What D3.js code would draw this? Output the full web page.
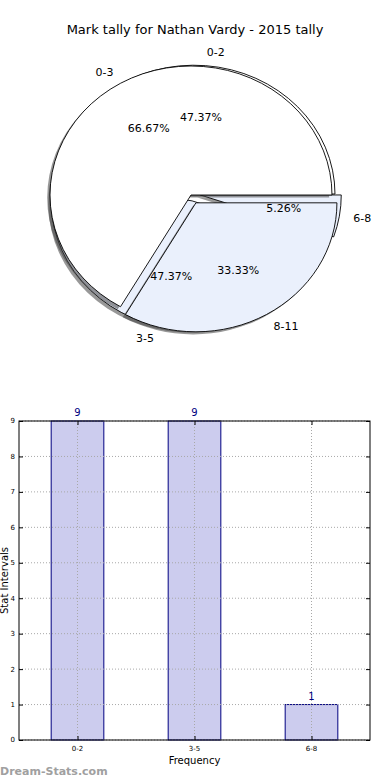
<!DOCTYPE html>
<html>
<head>
<meta charset="utf-8">
<script src="https://cdn.jsdelivr.net/npm/d3@7"></script>
<style>
  body { margin: 0; background: #fff; }
  svg { display: block; font-family: "DejaVu Sans", sans-serif; }
</style>
</head>
<body>
<div id="chart"></div>
<script>
// chart values
const titleText = "Mark tally for Nathan Vardy - 2015 tally";

// first pie (same tally as the bars)
const pieLabelsA = ["0-2", "3-5", "6-8"];
const pieValuesA = [9, 9, 1];

// second pie drawn over it
const pieLabelsB = ["0-3", "8-11"];
const pieValuesB = [2, 1];

// bar chart
const barCategories = ["0-2", "3-5", "6-8"];
const barValues = [9, 9, 1];
const yTicks = [0, 1, 2, 3, 4, 5, 6, 7, 8, 9];

const W = 390, H = 780;

const svg = d3.select("#chart").append("svg")
    .attr("width", W)
    .attr("height", H);

// title
svg.append("text")
    .attr("x", 195)
    .attr("y", 34)
    .attr("text-anchor", "middle")
    .style("font-size", "13px")
    .text(titleText);

// ---------- pies ----------
const rx = 141, ry = 129;
const blue = "#eaf0fc";

// matplotlib style: start at 3 o'clock, go counterclockwise
const pieGen = d3.pie().sort(null)
    .startAngle(Math.PI / 2)
    .endAngle(Math.PI / 2 - 2 * Math.PI);

const unitArc = d3.arc().innerRadius(0).outerRadius(1);

function drawPie(labels, values, cfg) {
    const arcs = pieGen(values).map((a, i) => {
        const mid = (a.startAngle + a.endAngle) / 2;
        const ex = cfg.explode[i];
        return {
            arc: a,
            label: labels[i],
            value: values[i],
            mid: mid,
            cx: cfg.cx + ex * rx * Math.sin(mid),
            cy: cfg.cy - ex * ry * Math.cos(mid),
            fill: cfg.colors[i]
        };
    });
    const total = d3.sum(values);

    // shadow under the wedges
    const shadow = cfg.patchLayer.append("g");
    shadow.selectAll("path")
        .data(arcs)
        .enter()
        .append("path")
        .attr("transform", d => `translate(${d.cx - 2.8},${d.cy + 2.6}) scale(${rx},${ry})`)
        .attr("d", d => unitArc(d.arc))
        .attr("fill", "#444")
        .attr("fill-opacity", 0.55);

    const wedges = cfg.patchLayer.append("g");
    wedges.selectAll("path")
        .data(arcs)
        .enter()
        .append("path")
        .attr("transform", d => `translate(${d.cx},${d.cy}) scale(${rx},${ry})`)
        .attr("d", d => unitArc(d.arc))
        .attr("fill", d => d.fill)
        .attr("stroke", "#000")
        .attr("stroke-width", 0.9)
        .attr("vector-effect", "non-scaling-stroke");

    // outer labels
    cfg.textLayer.selectAll(null)
        .data(arcs)
        .enter()
        .append("text")
        .attr("x", d => d.cx + 1.1 * rx * Math.sin(d.mid))
        .attr("y", d => d.cy - 1.1 * ry * Math.cos(d.mid))
        .attr("dy", "0.35em")
        .attr("text-anchor", d => Math.sin(d.mid) >= 0 ? "start" : "end")
        .style("font-size", "11px")
        .text(d => d.label);

    // percentages
    cfg.textLayer.selectAll(null)
        .data(arcs)
        .enter()
        .append("text")
        .attr("x", d => d.cx + 0.6 * rx * Math.sin(d.mid))
        .attr("y", d => d.cy - 0.6 * ry * Math.cos(d.mid))
        .attr("dy", "0.35em")
        .attr("text-anchor", "middle")
        .style("font-size", "11px")
        .text(d => (d.value / total * 100).toFixed(2) + "%");
}

const patchLayer = svg.append("g");
const textLayer = svg.append("g");

drawPie(pieLabelsA, pieValuesA, {
    cx: 194, cy: 194,
    explode: [0, 0.055, 0.045],
    colors: ["#ffffff", blue, blue],
    patchLayer: patchLayer, textLayer: textLayer
});
drawPie(pieLabelsB, pieValuesB, {
    cx: 191, cy: 195,
    explode: [0, 0.07],
    colors: ["#ffffff", blue],
    patchLayer: patchLayer, textLayer: textLayer
});

// ---------- bar chart ----------
const plot = {left: 19, right: 370, top: 421, bottom: 740};

const x = d3.scaleLinear()
    .domain([-0.5, barCategories.length - 0.5])
    .range([plot.left, plot.right]);

const y = d3.scaleLinear()
    .domain([0, 9])
    .range([plot.bottom, plot.top]);

const barW = x(0.45) - x(0);
const g = svg.append("g");

// bars
g.selectAll(".bar")
    .data(barValues)
    .enter()
    .append("rect")
    .attr("class", "bar")
    .attr("x", (d, i) => x(i) - barW / 2)
    .attr("y", d => y(d))
    .attr("width", barW)
    .attr("height", d => y(0) - y(d))
    .attr("fill", "#ccccee")
    .attr("stroke", "#000080")
    .attr("stroke-width", 1);

// dotted grid, drawn over the bars like in the original
g.selectAll(".hgrid")
    .data(yTicks)
    .enter()
    .append("line")
    .attr("x1", plot.left).attr("x2", plot.right)
    .attr("y1", d => y(d)).attr("y2", d => y(d))
    .attr("stroke", "#a8a8a8")
    .attr("stroke-dasharray", "1,2");

g.selectAll(".vgrid")
    .data(barCategories)
    .enter()
    .append("line")
    .attr("x1", (d, i) => x(i)).attr("x2", (d, i) => x(i))
    .attr("y1", plot.top).attr("y2", plot.bottom)
    .attr("stroke", "#a8a8a8")
    .attr("stroke-dasharray", "1,2");

// value labels
g.selectAll(".val")
    .data(barValues)
    .enter()
    .append("text")
    .attr("x", (d, i) => x(i))
    .attr("y", d => y(d) - 5)
    .attr("text-anchor", "middle")
    .attr("fill", "#000080")
    .style("font-size", "10px")
    .text(d => d);

// frame
g.append("rect")
    .attr("x", plot.left).attr("y", plot.top)
    .attr("width", plot.right - plot.left)
    .attr("height", plot.bottom - plot.top)
    .attr("fill", "none")
    .attr("stroke", "#000")
    .attr("stroke-width", 1);

// inward ticks on all sides
const yAxisL = d3.axisRight(y).tickValues(yTicks).tickSize(4).tickFormat("");
const yAxisR = d3.axisLeft(y).tickValues(yTicks).tickSize(4).tickFormat("");
g.append("g").attr("transform", `translate(${plot.left},0)`).call(yAxisL)
    .call(a => a.select(".domain").remove());
g.append("g").attr("transform", `translate(${plot.right},0)`).call(yAxisR)
    .call(a => a.select(".domain").remove());

const xTickPos = barCategories.map((d, i) => i);
const xAxisB = d3.axisTop(x).tickValues(xTickPos).tickSize(4).tickFormat("");
const xAxisT = d3.axisBottom(x).tickValues(xTickPos).tickSize(4).tickFormat("");
g.append("g").attr("transform", `translate(0,${plot.bottom})`).call(xAxisB)
    .call(a => a.select(".domain").remove());
g.append("g").attr("transform", `translate(0,${plot.top})`).call(xAxisT)
    .call(a => a.select(".domain").remove());

// tick labels
g.selectAll(".ylab")
    .data(yTicks)
    .enter()
    .append("text")
    .attr("x", plot.left - 4)
    .attr("y", d => y(d))
    .attr("dy", "0.35em")
    .attr("text-anchor", "end")
    .style("font-size", "7px")
    .text(d => d);

g.selectAll(".xlab")
    .data(barCategories)
    .enter()
    .append("text")
    .attr("x", (d, i) => x(i))
    .attr("y", plot.bottom + 11)
    .attr("text-anchor", "middle")
    .style("font-size", "7px")
    .text(d => d);

// axis titles
svg.append("text")
    .attr("x", (plot.left + plot.right) / 2)
    .attr("y", 764)
    .attr("text-anchor", "middle")
    .style("font-size", "10px")
    .text("Frequency");

svg.append("text")
    .attr("transform", `translate(8,${(plot.top + plot.bottom) / 2}) rotate(-90)`)
    .attr("text-anchor", "middle")
    .style("font-size", "10px")
    .text("Stat Intervals");

// watermark
svg.append("text")
    .attr("x", 0)
    .attr("y", 775)
    .attr("fill", "#a0a0a0")
    .style("font-size", "11px")
    .style("font-weight", "bold")
    .text("Dream-Stats.com");
</script>
</body>
</html>
